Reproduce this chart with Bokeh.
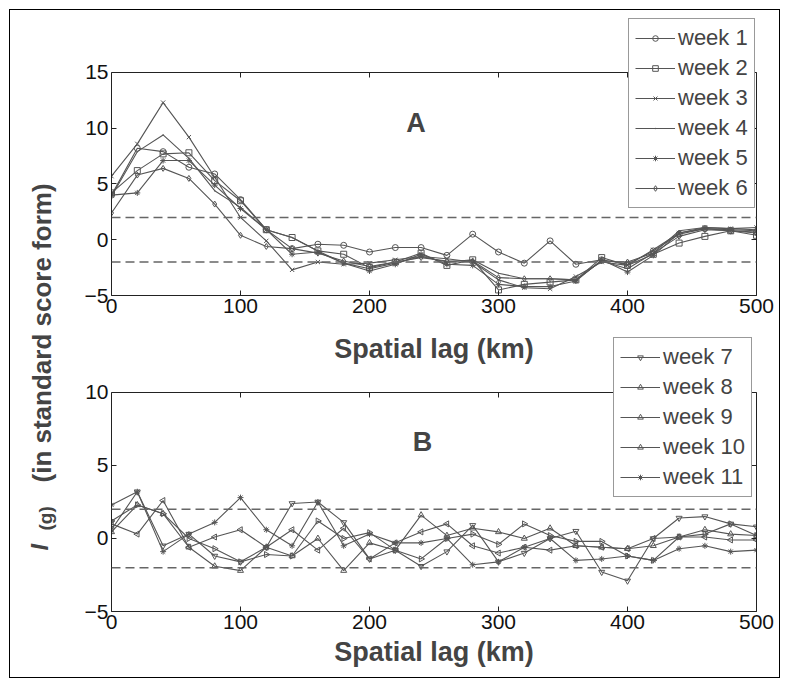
import math
from bokeh.plotting import figure
from bokeh.layouts import row, column
from bokeh.models import Span, Label, LinearAxis, FixedTicker, Range1d
from bokeh.embed import file_html
from bokeh.resources import INLINE

FONT = "Liberation Sans"

lag_km = [0, 20, 40, 60, 80, 100, 120, 140, 160, 180, 200, 220, 240,
          260, 280, 300, 320, 340, 360, 380, 400, 420, 440, 460, 480, 500]

week1 = [4.0, 8.2, 7.9, 6.5, 5.9, 3.6, 0.9, -0.8, -0.4, -0.5, -1.1, -0.7, -0.7,
         -1.4, 0.5, -1.1, -2.1, -0.1, -2.2, -1.8, -2.2, -1.0, 0.5, 1.0, 0.8, 0.7]
week2 = [4.2, 6.2, 7.7, 7.8, 5.3, 3.5, 0.9, 0.2, -1.0, -1.3, -2.5, -2.0, -1.2,
         -2.3, -1.8, -4.5, -4.0, -3.8, -3.6, -1.6, -2.3, -1.3, -0.3, 0.3, 0.8, 0.4]
week3 = [5.7, 8.6, 12.3, 9.2, 5.6, 2.0, -0.1, -2.7, -2.0, -2.2, -2.1, -1.8, -1.5,
         -1.7, -2.0, -3.6, -4.3, -4.4, -3.3, -2.0, -2.3, -0.9, 0.6, 1.1, 1.0, 1.1]
week4 = [3.9, 7.9, 9.4, 7.3, 4.4, 2.9, 0.9, 0.2, -1.0, -2.1, -2.6, -2.1, -1.5,
         -2.0, -1.8, -3.0, -3.5, -3.5, -3.6, -1.9, -2.6, -1.2, 0.8, 1.1, 1.0, 0.9]
week5 = [4.0, 4.2, 7.1, 7.1, 4.9, 2.8, 0.9, -1.3, -1.1, -2.1, -2.8, -2.2, -1.3,
         -2.2, -2.3, -4.0, -4.2, -4.2, -3.7, -1.8, -2.9, -1.4, 0.6, 1.0, 0.9, 0.8]
week6 = [2.4, 5.8, 6.4, 5.5, 3.2, 0.4, -0.6, -0.8, -1.2, -1.9, -2.4, -2.0, -1.6,
         -1.9, -1.9, -3.4, -3.5, -3.5, -3.6, -1.9, -2.0, -1.2, 0.3, 0.9, 0.8, 0.6]

week7 = [0.6, 3.2, -0.5, 0.3, -1.2, -1.6, -0.6, 2.4, 2.5, 1.1, -1.4, -0.8, -1.9,
         -0.9, 0.9, -1.6, -1.0, 0.0, 0.5, -2.3, -2.9, 0.0, 1.4, 1.5, 1.0, 0.8]
week8 = [0.45, 2.3, 1.7, -0.6, -1.9, -2.2, -0.6, -1.2, 0.0, -2.2, -0.3, -0.8, 1.6,
         0.2, 0.7, 0.45, 0.0, 0.7, -0.5, -0.6, -0.7, -0.5, 0.1, 0.6, 0.3, 0.2]
week9 = [1.0, 0.3, 2.6, -0.6, 0.1, 0.6, -0.6, 0.6, -0.8, 0.7, -1.4, -0.3, 0.45,
         1.0, -0.5, -1.0, -0.6, -0.8, -0.5, -0.6, -0.7, 0.0, 0.1, 0.1, -0.1, -0.1]
week10 = [1.2, 2.3, 1.7, 0.0, -0.7, -1.6, -1.1, -1.2, 1.2, 0.0, 0.4, -0.8, -1.4,
          0.0, 0.3, -0.4, 1.0, 0.2, -0.2, -0.2, -1.2, -1.5, 0.1, 0.3, 1.0, 0.2]
week11 = [2.3, 3.2, -0.9, 0.3, 1.1, 2.8, 0.6, -0.5, 2.5, -0.5, 0.3, -0.3, -0.3,
          0.0, -1.8, -1.6, -0.6, 0.0, -1.5, -1.4, -1.2, -1.5, -0.7, -0.5, -0.9, -0.8]

x_ticks = [0, 100, 200, 300, 400, 500]
y_ticks_a = [-5, 0, 5, 10, 15]
y_ticks_b = [-5, 0, 5, 10]
threshold = [2, -2]

series_a = [("week 1", week1, "circle", 0), ("week 2", week2, "square", 0),
            ("week 3", week3, "x", 0), ("week 4", week4, "dot", 0),
            ("week 5", week5, "asterisk", 0), ("week 6", week6, "diamond", 0)]
series_b = [("week 7", week7, "inverted_triangle", 0), ("week 8", week8, "triangle", 0),
            ("week 9", week9, "triangle", math.pi / 2), ("week 10", week10, "triangle", -math.pi / 2),
            ("week 11", week11, "asterisk", 0)]

LINE = "#555555"
AX = "#222222"


def blank_axis(ticks, **kw):
    return LinearAxis(ticker=FixedTicker(ticks=ticks), major_tick_in=5, major_tick_out=0,
                      minor_tick_line_color=None, major_label_overrides={t: "" for t in ticks},
                      major_label_text_font_size="2px", major_label_standoff=0,
                      axis_line_color=AX, major_tick_line_color=AX, **kw)


def style_axes(p, yticks):
    ylo, yhi = yticks[0], yticks[-1]
    for ax in p.xaxis:
        ax.ticker = FixedTicker(ticks=x_ticks)
    for ax in p.yaxis:
        ax.ticker = FixedTicker(ticks=yticks)
        ax.bounds = (ylo, yhi)
    for ax in p.axis:
        ax.major_tick_in = 5
        ax.major_tick_out = 0
        ax.minor_tick_line_color = None
        ax.axis_line_color = AX
        ax.major_tick_line_color = AX
        ax.major_label_text_font = FONT
        ax.major_label_text_font_size = "21px"
        ax.major_label_text_color = "#111111"
        ax.major_label_standoff = 3
    top = blank_axis(x_ticks, fixed_location=yhi)
    right = blank_axis(yticks, bounds=(ylo, yhi))
    p.add_layout(top, "above")
    p.add_layout(right, "right")
    p.grid.visible = False
    p.outline_line_color = None


def add_series(p, series):
    for name, ys, marker, ang in series:
        p.line(lag_km, ys, line_color=LINE, line_width=1.1, legend_label=name)
        p.scatter(lag_km, ys, marker=marker, angle=ang, size=6, line_color=LINE,
                  fill_color=LINE if marker in ("dot", "asterisk") else None,
                  line_width=1, legend_label=name)
    for t in threshold:
        p.add_layout(Span(location=t, dimension="width", line_color="#666666",
                          line_width=1.5, line_dash="9 5"))


def style_legend(p, loc):
    lg = p.legend[0]
    lg.location = loc
    lg.label_text_font = FONT
    lg.label_text_font_size = "22px"
    lg.glyph_width = 40
    lg.glyph_height = 14
    lg.label_height = 26
    lg.label_standoff = 3
    lg.spacing = 4
    lg.padding = 6
    lg.margin = 0
    lg.border_line_color = "#333333"
    lg.border_line_width = 1
    lg.background_fill_alpha = 1


# ---- left label figure (page x 10..70)
L = figure(width=60, height=667, x_range=Range1d(0, 60), y_range=Range1d(0, 667),
           x_axis_type=None, y_axis_type=None, toolbar_location=None,
           output_backend="svg", min_border=0)
L.grid.visible = False
L.outline_line_color = None
L.add_layout(Label(x=29, y=127, text="I", angle=math.pi / 2, text_align="left",
                   text_baseline="middle", text_font=FONT, text_font_size="24px",
                   text_font_style="bold italic"))
L.add_layout(Label(x=35, y=147, text="(g)", angle=math.pi / 2, text_align="left",
                   text_baseline="middle", text_font=FONT, text_font_size="19px",
                   text_font_style="bold"))
L.add_layout(Label(x=31, y=195, text="(in standard score form)", angle=math.pi / 2,
                   text_align="left", text_baseline="middle", text_font=FONT,
                   text_font_size="26px", text_font_style="bold"))

# ---- panel A  (frame page y 16..295, x 111..756)
p1 = figure(width=709, height=323, x_range=Range1d(0, 500), y_range=Range1d(-5, 20.02),
            toolbar_location=None, output_backend="svg",
            min_border_left=41, min_border_right=23, min_border_top=6, min_border_bottom=38)
add_series(p1, series_a)
style_axes(p1, y_ticks_a)
style_legend(p1, (517, 87))
p1.add_layout(Label(x=236, y=10.5, text="A", text_align="center", text_baseline="middle",
                    text_font=FONT, text_font_size="27px", text_font_style="bold"))

# ---- panel B  (frame page y 335..611)
p2 = figure(width=709, height=344, x_range=Range1d(0, 500), y_range=Range1d(-5, 13.9),
            toolbar_location=None, output_backend="svg",
            min_border_left=41, min_border_right=23, min_border_top=2, min_border_bottom=66)
add_series(p2, series_b)
style_axes(p2, y_ticks_b)
style_legend(p2, (502, 114))
p2.add_layout(Label(x=241, y=6.6, text="B", text_align="center", text_baseline="middle",
                    text_font=FONT, text_font_size="27px", text_font_style="bold"))
# x-axis title of panel A (sits in the gap between the panels)
p2.add_layout(Label(x=250, y=13.0, text="Spatial lag (km)", text_align="center",
                    text_baseline="alphabetic", text_font=FONT, text_font_size="27px",
                    text_font_style="bold"))
bottom = p2.below[0]
bottom.axis_label = "Spatial lag (km)"
bottom.axis_label_text_font = FONT
bottom.axis_label_text_font_size = "27px"
bottom.axis_label_text_font_style = "bold"
bottom.axis_label_standoff = 5

layout = row(L, column(p1, p2), styles={"border": "1px solid black", "margin": "9px 0 0 9px"})

open("out.html", "w").write(file_html(layout, INLINE))
